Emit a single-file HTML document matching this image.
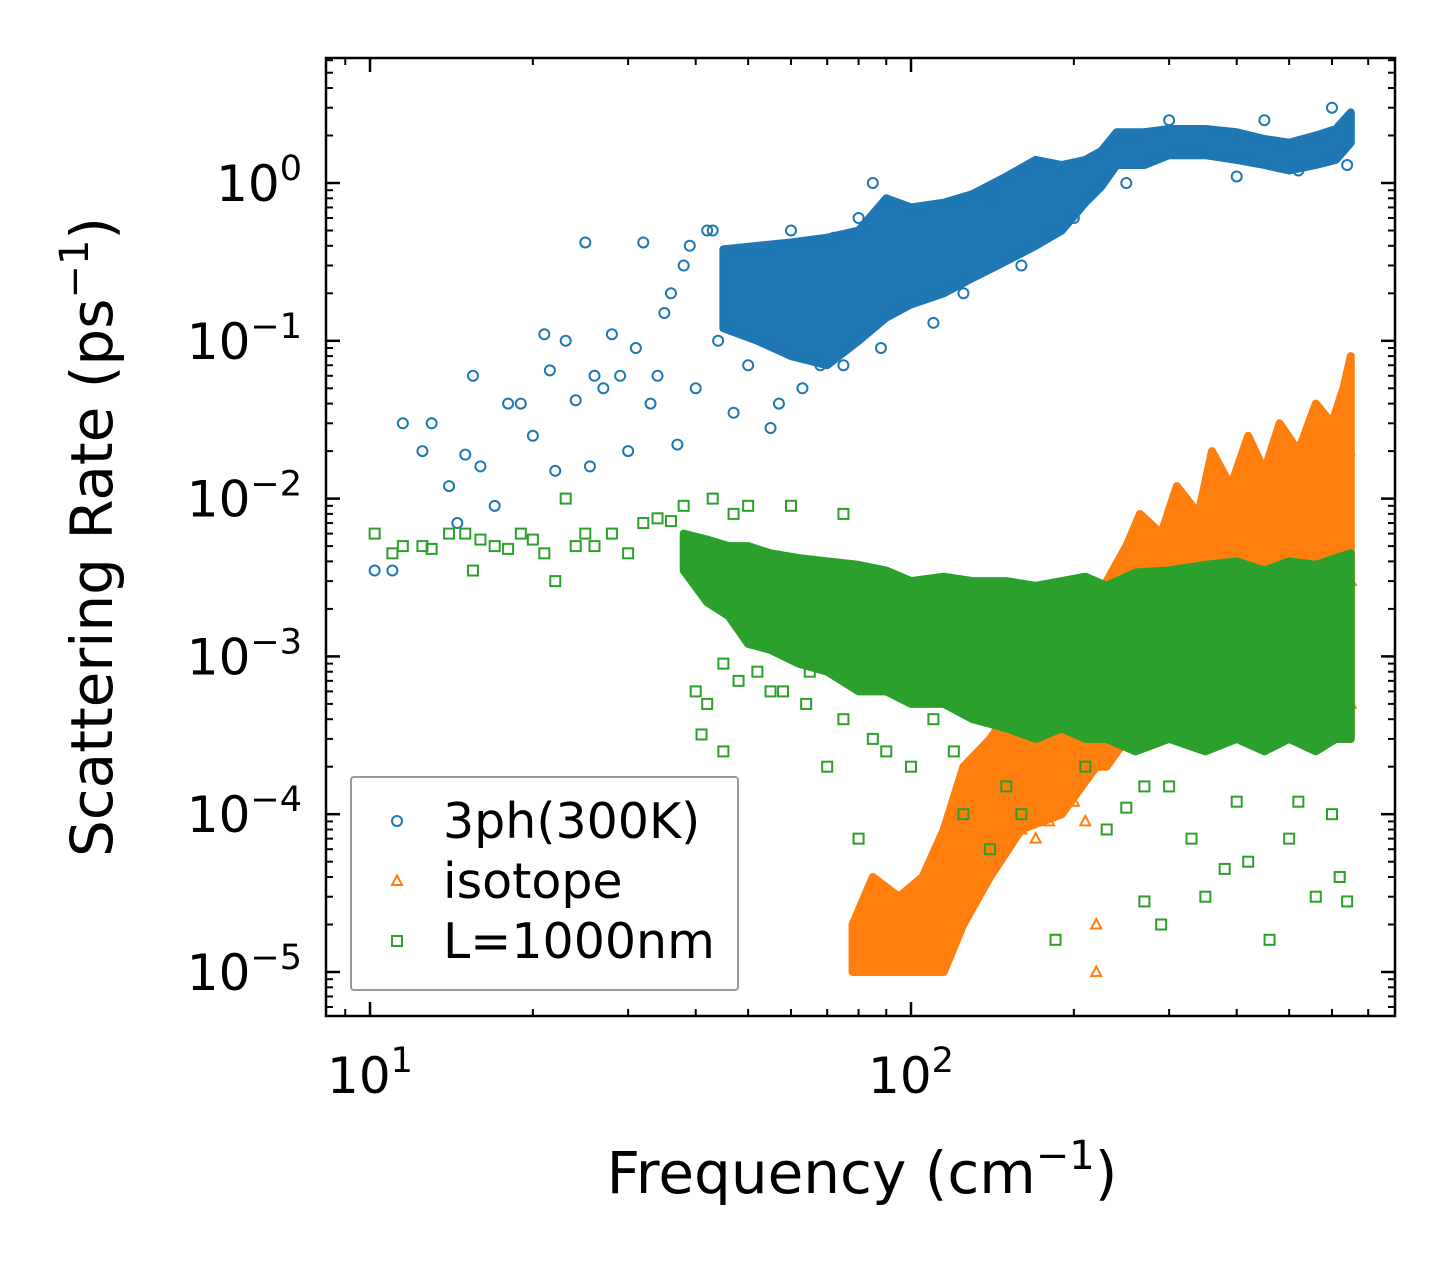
<!DOCTYPE html>
<html><head><meta charset="utf-8"><style>
body{margin:0;background:#fff}
svg text{font-family:"DejaVu Sans","Liberation Sans",sans-serif;fill:#000}
</style></head><body>
<svg id="chart" width="1455" height="1265" viewBox="0 0 1455 1265" xmlns="http://www.w3.org/2000/svg" style="position:absolute;left:0;top:0">
<rect width="1455" height="1265" fill="#fff"/>
<g id="marks"></g>
<g id="axes"></g>
</svg>
<script>
// ---- data ----
const xTickVals=[10,100];
const xTickExp=["1","2"];
const yTickVals=[1,0.1,0.01,0.001,0.0001,0.00001];
const yTickExp=["0","−1","−2","−3","−4","−5"];
// dense cores (frequency, low, high)
const blueBandF=[45,52,60,70,80,90,100,115,130,150,170,190,210,225,240,270,300,350,400,450,500,560,610,650];
const blueBandLo=[0.12,0.1,0.08,0.07,0.1,0.14,0.17,0.2,0.25,0.32,0.4,0.5,0.75,0.95,1.3,1.3,1.5,1.5,1.4,1.3,1.2,1.3,1.4,1.8];
const blueBandHi=[0.38,0.4,0.42,0.45,0.5,0.8,0.7,0.75,0.85,1.1,1.4,1.3,1.4,1.6,2.1,2.1,2.2,2.2,2.1,1.9,1.8,2.0,2.2,2.8];
const orangeBandF=[78,85,95,105,115,125,140,160,190,220,230,250,265,290,310,340,360,390,420,450,480,520,560,600,630,650];
const orangeBandLo=[0.00001,0.00001,0.00001,0.00001,0.00001,0.00002,0.00004,0.00008,0.0001,0.0002,0.0002,0.0003,0.0003,0.0003,0.0003,0.0003,0.0003,0.0003,0.0003,0.0003,0.0003,0.0003,0.0003,0.0003,0.0003,0.0003];
const orangeBandHi=[0.00002,0.00004,0.00003,0.00004,0.00008,0.0002,0.0003,0.0006,0.001,0.002,0.003,0.005,0.008,0.006,0.012,0.008,0.02,0.012,0.025,0.015,0.03,0.02,0.04,0.03,0.05,0.08];
const greenBandF=[38,42,46,50,55,62,70,80,90,100,115,130,150,170,190,210,230,260,300,350,400,450,500,560,610,650];
const greenBandLo=[0.0035,0.0022,0.0018,0.0012,0.0011,0.0009,0.0008,0.0006,0.0006,0.0005,0.0005,0.0004,0.00035,0.0003,0.00035,0.0003,0.0003,0.00025,0.0003,0.00025,0.0003,0.00025,0.0003,0.00025,0.0003,0.0003];
const greenBandHi=[0.006,0.0055,0.005,0.005,0.0045,0.0042,0.004,0.0038,0.0035,0.003,0.0032,0.003,0.003,0.0028,0.003,0.0032,0.0028,0.0034,0.0035,0.0038,0.004,0.0035,0.004,0.0038,0.0042,0.0045];
// scattered points
const blueX=[10.2,11,11.5,12.5,13,14,14.5,15,15.5,16,17,18,19,20,21,21.5,22,23,24,25,25.5,26,27,28,29,30,31,32,33,34,35,36,37,38,39,40,42,43,44,47,50,55,57,60,63,68,72,75,80,85,88,95,110,125,140,160,180,200,250,300,400,450,520,600,640];
const blueY=[0.0035,0.0035,0.03,0.02,0.03,0.012,0.007,0.019,0.06,0.016,0.009,0.04,0.04,0.025,0.11,0.065,0.015,0.1,0.042,0.42,0.016,0.06,0.05,0.11,0.06,0.02,0.09,0.42,0.04,0.06,0.15,0.2,0.022,0.3,0.4,0.05,0.5,0.5,0.1,0.035,0.07,0.028,0.04,0.5,0.05,0.07,0.45,0.07,0.6,1.0,0.09,0.16,0.13,0.2,0.8,0.3,0.5,0.6,1.0,2.5,1.1,2.5,1.2,3.0,1.3];
const orangeX=[220,220,160,170,180,200,210,650,650,645,640];
const orangeY=[0.00002,0.00001,0.00008,0.00007,0.00009,0.00012,0.00009,0.0005,0.003,0.02,0.0008];
const greenX=[10.2,11,11.5,12.5,13,14,15,15.5,16,17,18,19,20,21,22,23,24,25,26,28,30,32,34,36,38,40,41,42,43,45,47,50,55,60,65,70,75,80,85,90,100,110,125,140,160,185,210,230,250,270,290,330,350,380,420,460,500,560,620,640,45,48,52,58,64,75,90,120,150,270,300,400,520,600];
const greenY=[0.006,0.0045,0.005,0.005,0.0048,0.006,0.006,0.0035,0.0055,0.005,0.0048,0.006,0.0055,0.0045,0.003,0.01,0.005,0.006,0.005,0.006,0.0045,0.007,0.0075,0.0072,0.009,0.0006,0.00032,0.0005,0.01,0.00025,0.008,0.009,0.0006,0.009,0.0008,0.0002,0.008,0.00007,0.0003,0.002,0.0002,0.0004,0.0001,0.00006,0.0001,0.000016,0.0002,0.00008,0.00011,0.000028,0.00002,0.00007,0.00003,0.000045,0.00005,0.000016,0.00007,0.00003,0.00004,0.000028,0.0009,0.0007,0.0008,0.0006,0.0005,0.0004,0.00025,0.00025,0.00015,0.00015,0.00015,0.00012,0.00012,0.0001];

// ---- axes functions ----
const L=326,R=1395,T=58,B=1016;
const xLog0=Math.log10(10), xPx0=370, xPerDec=541;
const yPx0=183, yPerDec=157.8;
function sx(v){return xPx0+(Math.log10(v)-xLog0)*xPerDec;}
function sy(v){return yPx0-Math.log10(v)*yPerDec;}
const NS="http://www.w3.org/2000/svg";
const marks=document.getElementById('marks'), axes=document.getElementById('axes');
function mk(tag,attrs,parent){const e=document.createElementNS(NS,tag);for(const k in attrs)e.setAttribute(k,attrs[k]);parent.appendChild(e);return e;}
const C={blue:'#1f77b4',orange:'#ff7f0e',green:'#2ca02c'};

function band(F,Lo,Hi,color,name){
  let d='M'+F.map((f,i)=>sx(f).toFixed(1)+','+sy(Hi[i]).toFixed(1)).join('L');
  for(let i=F.length-1;i>=0;i--)d+='L'+sx(F[i]).toFixed(1)+','+sy(Lo[i]).toFixed(1);
  const p=mk('path',{d:d+'Z',fill:color,stroke:color,'stroke-width':8,'stroke-linejoin':'round'},marks);
  
  
}
function marker(kind,x,y,color,parent){
  let e;
  if(kind==='o')e=mk('circle',{cx:x,cy:y,r:5,fill:'none',stroke:color,'stroke-width':2},parent);
  else if(kind==='s')e=mk('rect',{x:x-5,y:y-5,width:10,height:10,fill:'none',stroke:color,'stroke-width':2},parent);
  else e=mk('path',{d:`M${x},${y-5.5}L${x+5},${y+4}L${x-5},${y+4}Z`,fill:'none',stroke:color,'stroke-width':2},parent);
  return e;
}
function scatter(X,Y,kind,color,name){
  X.forEach((v,i)=>{const e=marker(kind,sx(v),sy(Y[i]),color,marks);
    
    });
}
band(blueBandF,blueBandLo,blueBandHi,C.blue,'3ph-dense-region');
scatter(blueX,blueY,'o',C.blue,'3ph-point');
band(orangeBandF,orangeBandLo,orangeBandHi,C.orange,'isotope-dense-region');
scatter(orangeX,orangeY,'^',C.orange,'isotope-point');
band(greenBandF,greenBandLo,greenBandHi,C.green,'boundary-dense-region');
scatter(greenX,greenY,'s',C.green,'boundary-point');

const fr=mk('rect',{x:L,y:T,width:R-L,height:B-T,fill:'none',stroke:'#000','stroke-width':2.5},axes);


for(let d=0;d<=2;d++)for(let m=1;m<=9;m++){
  const v=m*Math.pow(10,d);const x=sx(v);if(x<L||x>R)continue;
  const len=m===1?14:7,w=m===1?2.5:2;
  mk('line',{x1:x,x2:x,y1:B,y2:B-len,stroke:'#000','stroke-width':w},axes);
  mk('line',{x1:x,x2:x,y1:T,y2:T+len,stroke:'#000','stroke-width':w},axes);
}
for(let d=-6;d<=1;d++)for(let m=1;m<=9;m++){
  const v=m*Math.pow(10,d);const y=sy(v);if(y<T||y>B)continue;
  const len=m===1?14:7,w=m===1?2.5:2;
  mk('line',{x1:L,x2:L+len,y1:y,y2:y,stroke:'#000','stroke-width':w},axes);
  mk('line',{x1:R,x2:R-len,y1:y,y2:y,stroke:'#000','stroke-width':w},axes);
}
xTickVals.forEach((v,i)=>{
  const t=mk('text',{x:sx(v),y:1093,'text-anchor':'middle','font-size':50},axes);
  
  
  t.innerHTML='10<tspan dy="-21" font-size="35">'+xTickExp[i]+'</tspan>';
});
yTickVals.forEach((v,i)=>{
  const t=mk('text',{x:302,y:sy(v)+18,'text-anchor':'end','font-size':50},axes);
  
  
  t.innerHTML='10<tspan dy="-21" font-size="35">'+yTickExp[i]+'</tspan>';
});
</script>
<svg style="position:absolute;left:0;top:0" width="1455" height="1265">
<text x="862" y="1193" text-anchor="middle" font-size="58" font-family="DejaVu Sans,sans-serif">Frequency (cm<tspan dy="-24" font-size="40">−1</tspan><tspan dy="24">)</tspan></text>
<text transform="translate(112,537) rotate(-90)" text-anchor="middle" font-size="58" font-family="DejaVu Sans,sans-serif">Scattering Rate (ps<tspan dy="-24" font-size="40">−1</tspan><tspan dy="24">)</tspan></text>
<g>
<rect x="351" y="777" width="387" height="213" fill="#fff" fill-opacity="0.8" stroke="#999" stroke-width="2" rx="3"/>
<circle cx="397" cy="821" r="5" fill="none" stroke="#1f77b4" stroke-width="2"/>
<text x="443" y="838" font-size="49" font-family="DejaVu Sans,sans-serif">3ph(300K)</text>
<path d="M397,875.5L402,885L392,885Z" fill="none" stroke="#ff7f0e" stroke-width="2"/>
<text x="443" y="898" font-size="49" font-family="DejaVu Sans,sans-serif">isotope</text>
<rect x="392" y="936" width="10" height="10" fill="none" stroke="#2ca02c" stroke-width="2"/>
<text x="443" y="958" font-size="49" font-family="DejaVu Sans,sans-serif">L=1000nm</text>
</g>
</svg>
</body></html>
